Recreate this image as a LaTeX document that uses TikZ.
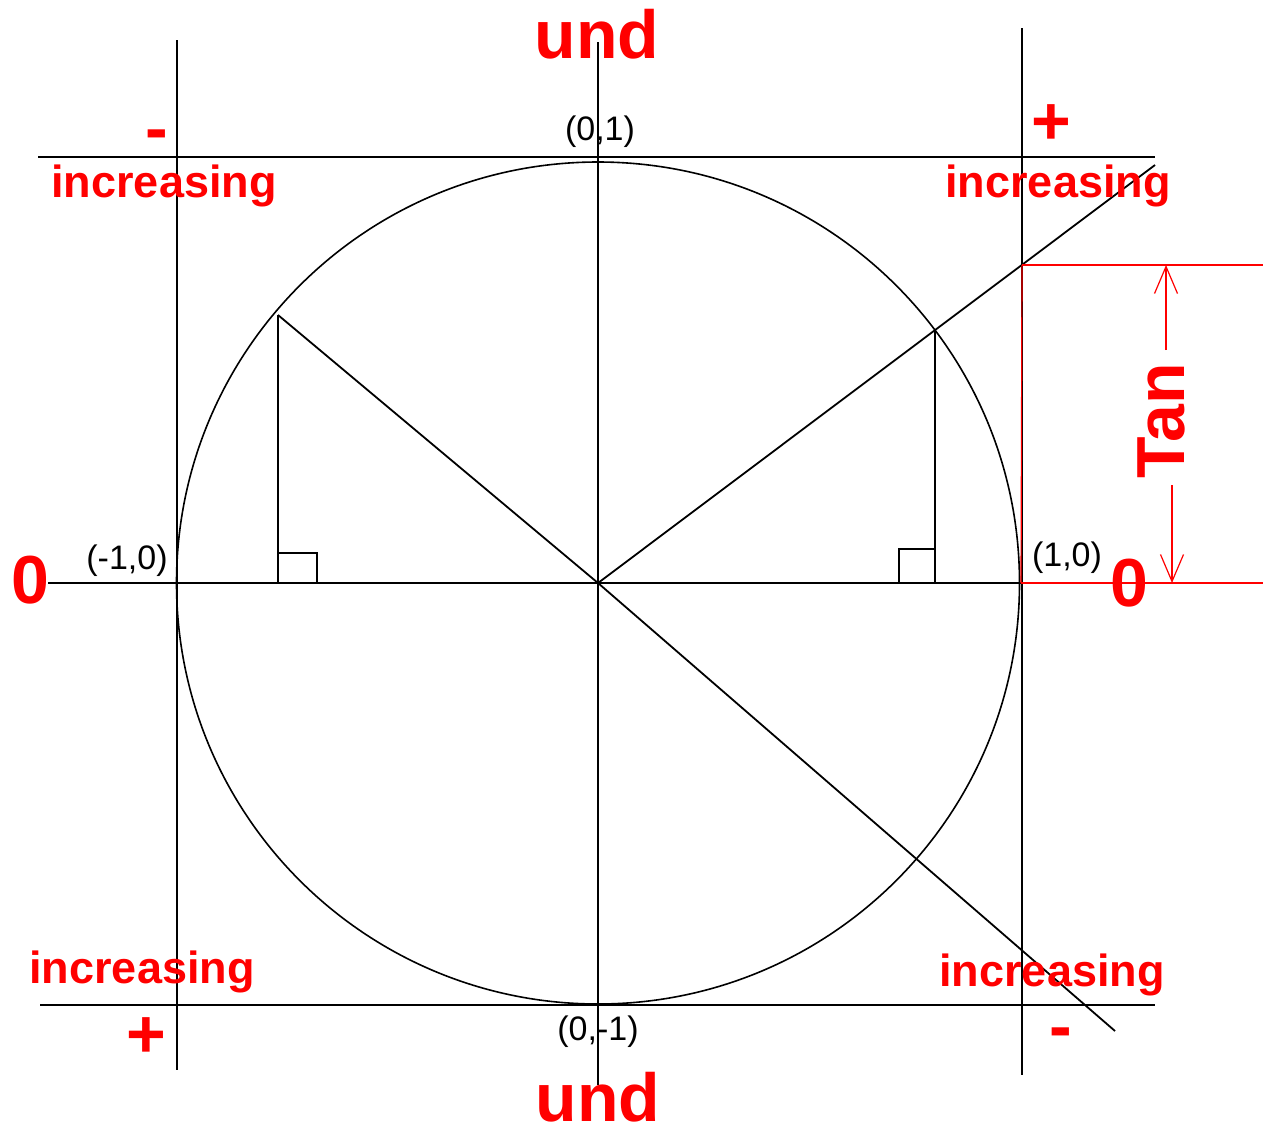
\documentclass[tikz,border=0pt]{standalone}
\usepackage{fontspec}
\setmainfont{Liberation Sans}
\usetikzlibrary{arrows.meta}
\tikzset{
  blk/.style={draw=black, line width=0.9pt},
  redl/.style={draw=red, line width=0.6pt},
  big/.style={text=red, font=\fontsize{34}{34}\selectfont\bfseries, inner sep=0pt},
  incr/.style={text=red, font=\fontsize{22.5}{22.5}\selectfont\bfseries, inner sep=0pt},
  coord/.style={text=black, font=\fontsize{17}{17}\selectfont, inner sep=0pt},
  dimtip/.style={-{Straight Barb[length=13.5pt,width=11.5pt,line width=0.6pt]}}
}
\begin{document}
\begin{tikzpicture}[x=0.5pt,y=-0.5pt]
\useasboundingbox[fill=white] (0,0) rectangle (1263,1131);
% key coordinates
\coordinate (O) at (598,583);
\coordinate (vtop) at (598,42);
\coordinate (vbot) at (598,1085);
\coordinate (hleft) at (48,583);
\coordinate (E) at (1021,583);
\coordinate (tl) at (38,157);
\coordinate (tr) at (1155,157);
\coordinate (bl) at (40,1005);
\coordinate (br) at (1155,1005);
\coordinate (lvt) at (177,40);
\coordinate (lvb) at (177,1070);
\coordinate (rvt) at (1022,28);
\coordinate (rvb) at (1022,1075);
\coordinate (P1) at (935,330);
\coordinate (P1end) at (1155,165);
\coordinate (P1f) at (935,583);
\coordinate (P2) at (278,315);
\coordinate (P2end) at (1115,1031);
\coordinate (P2f) at (278,583);
\coordinate (T) at (1022,265);
\coordinate (Tr) at (1263,265);
\coordinate (Er) at (1263,583);
\coordinate (da) at (1166,265);
\coordinate (db) at (1166,350);
\coordinate (dc) at (1172,485);
\coordinate (dd) at (1172,583);

% circle
\draw[blk, line width=0.8pt] (O) ellipse [x radius=421.5, y radius=421];
% axes
\draw[blk] (vtop) -- (vbot);
\draw[blk] (hleft) -- (E);
% tangent lines
\draw[blk] (tl) -- (tr);
\draw[blk] (bl) -- (br);
\draw[blk] (lvt) -- (lvb);
\draw[blk] (rvt) -- (rvb);
% radii
\draw[blk] (O) -- (P1end);
\draw[blk] (P2) -- (O) -- (P2end);
\draw[blk] (P1) -- (P1f);
\draw[blk] (P2) -- (P2f);
% right-angle marks
\draw[blk] (278,553) -| (317,583);
\draw[blk] (935,549) -| (899,583);

% red tangent measure
\draw[redl] (T) -- (E);
\draw[redl] (T) -- (Tr);
\draw[redl] (E) -- (Er);
\draw[redl, dimtip] (db) -- (da);
\draw[redl, dimtip] (dc) -- (dd);
\node[big, rotate=90] (tan) at (1161,421) {Tan};

% big labels
\node[big] (undt) at (597,34) {und};
\node[big] (undb) at (598,1097) {und};
\node[big] (zl) at (30,580) {0};
\node[big] (zr) at (1129,583) {0};
\node[big] (s1) at (157,141) {-};
\node[big] (s2) at (1051,125) {+};
\node[big] (s3) at (146,1038) {+};
\node[big] (s4) at (1061,1039) {-};

% increasing labels
\node[incr] (i1) at (164,186) {increasing};
\node[incr] (i2) at (1058,186) {increasing};
\node[incr] (i3) at (142,972) {increasing};
\node[incr] (i4) at (1052,975) {increasing};

% coordinate labels
\node[coord] (c1) at (600,132) {(0,1)};
\node[coord] (c2) at (598,1032) {(0,-1)};
\node[coord] (c3) at (127,561) {(-1,0)};
\node[coord] (c4) at (1067,558) {(1,0)};
\end{tikzpicture}
\end{document}
